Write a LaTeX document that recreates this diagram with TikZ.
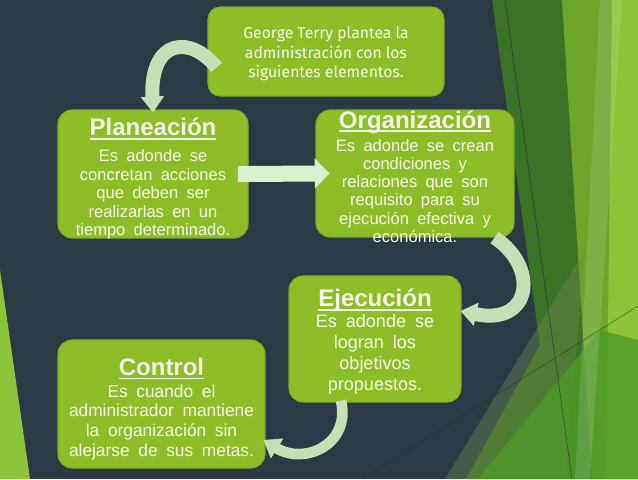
\documentclass[tikz,border=0pt]{standalone}
\usepackage{fontspec}
\setmainfont{Liberation Sans}
\newfontfamily\terryfont{Fira Sans}
\usepackage{tikz}
\usetikzlibrary{arrows.meta,calc}
\definecolor{Pizarra}{HTML}{2B3A44}
\definecolor{Raya}{HTML}{1F2A31}
\definecolor{CajaVerde}{HTML}{8DBE27}
\definecolor{CajaBorde}{HTML}{7EAB22}
\definecolor{Texto}{HTML}{F5F9EC}
\definecolor{FlechaClara}{HTML}{DAF0CC}
\definecolor{FlechaCurva}{HTML}{C8DEB7}
\definecolor{VerdeOscuro}{HTML}{3C7225}
\definecolor{VerdeMedio}{HTML}{6DA52B}
\definecolor{VerdeVivo}{HTML}{8DC43A}
\definecolor{VerdeHoja}{HTML}{4F9A28}
\definecolor{VerdeGris}{HTML}{6E8C4E}
\newcommand\titulo[1]{{\fontsize{18}{20}\selectfont\bfseries
  \setbox0\hbox{#1}\rlap{\rule[-2.8pt]{\wd0}{1.3pt}}\box0}}
\newcommand\cuerpo[2]{\fontsize{#1}{#2}\selectfont\spaceskip=.5em plus .1em\relax}
\tikzset{
  diagrama/.style={x=0.75pt,y=-0.75pt},
  caja/.style={draw=CajaBorde,line width=0.8pt,fill=CajaVerde,rounded corners=10.5pt},
  texto/.style={text=Texto,align=center,inner sep=0pt,anchor=north},
  recta/.style={draw=FlechaClara,line width=12pt,-{Triangle[length=11pt,width=22pt]}},
  curva/.style={draw=FlechaCurva,line width=10.5pt,-{Triangle[length=12pt,width=17pt]}},
}

\begin{document}
\begin{tikzpicture}[diagrama]
  \useasboundingbox (0,0) rectangle (638,479);
  % fondo
  \fill[Pizarra] (0,0) rectangle (638,479);
  \fill[VerdeVivo] (0,270) -- (30,479) -- (0,479) -- cycle;
  \fill[VerdeOscuro] (492,0) -- (638,0) -- (638,479) -- (466,479) -- (540,345) -- cycle;
  \fill[VerdeMedio] (562,0) -- (638,0) -- (638,479) -- (592,479) -- cycle;
  \fill[VerdeVivo] (612,0) -- (638,0) -- (638,479) -- (606,479) -- cycle;
  \fill[VerdeGris,opacity=.4] (445,479) -- (585,250) -- (565,479) -- cycle;
  \fill[VerdeHoja,opacity=.8] (478,479) -- (600,330) -- (638,340) -- (638,479) -- cycle;
  \fill[white,opacity=.12] (600,0) -- (622,0) -- (590,479) -- (575,479) -- cycle;
  \draw[Raya,line width=.5pt,opacity=.6] (505,0) -- (572,479);
  \draw[Raya,line width=.5pt,opacity=.5] (362,479) -- (638,306);

  % cajas
  \node[caja,minimum width=177pt,minimum height=66.75pt,rounded corners=9pt] (terry) at (326,51.5) {};
  \node[caja,minimum width=142.5pt,minimum height=96pt] (plan) at (153,174) {};
  \node[caja,minimum width=148.5pt,minimum height=95.25pt] (org) at (415,173.5) {};
  \node[caja,minimum width=129pt,minimum height=94.5pt] (ejec) at (375,339) {};
  \node[caja,minimum width=155.25pt,minimum height=96pt] (ctrl) at (161.5,404) {};

  % flechas
  \draw[recta,shorten <=-8pt,shorten >=-10.5pt] (plan.east) -- (org.west);
  \draw[curva] ($(terry.west)+(9,16)$) .. controls ($(terry.west)+(-16,-16)$)
    and ($(plan.north)+(-3,-72)$) .. ($(plan.north)+(0,3)$);
  \draw[curva] ($(org.south east)+(-20,0)$) .. controls ($(org.south east)+(25,30)$)
    and ($(ejec.east)+(70,-13)$) .. ($(ejec.east)+(-1,-28)$);
  \draw[curva,line width=8pt] ($(ejec.south)+(-34,-2)$) .. controls ($(ejec.south)+(-24,43)$)
    and ($(ctrl.east)+(38,61)$) .. ($(ctrl.east)+(-2,36)$);

  % textos
  \node[texto,font=\terryfont\fontsize{11.8}{14.7}\selectfont] (terry-t) at (326,26.5)
    {George Terry plantea la\\ administración con los\\ siguientes elementos.};
  \node[texto,font=\cuerpo{12.4}{13.9}] (plan-t) at (153,118)
    {\titulo{Planeación}\\[5.4pt] Es adonde se\\ concretan acciones\\ que deben ser\\
     realizarlas en un\\ tiempo determinado.};
  \node[texto,font=\cuerpo{12.4}{13.7}] (org-t) at (415,110.5)
    {\titulo{Organización}\\[3.3pt] Es adonde se crean\\ condiciones y\\ relaciones que son\\
     requisito para su\\ ejecución efectiva y\\ económica.};
  \node[texto,font=\cuerpo{13.5}{15.6}] (ejec-t) at (375,289)
    {\titulo{Ejecución}\\ Es adonde se\\ logran los\\ objetivos\\ propuestos.};
  \node[texto,font=\cuerpo{13}{14.8}] (ctrl-t) at (161.5,358)
    {\titulo{Control}\\[1.2pt] Es cuando el\\ administrador mantiene\\ la organización sin\\
     alejarse de sus metas.};
\end{tikzpicture}
\end{document}
